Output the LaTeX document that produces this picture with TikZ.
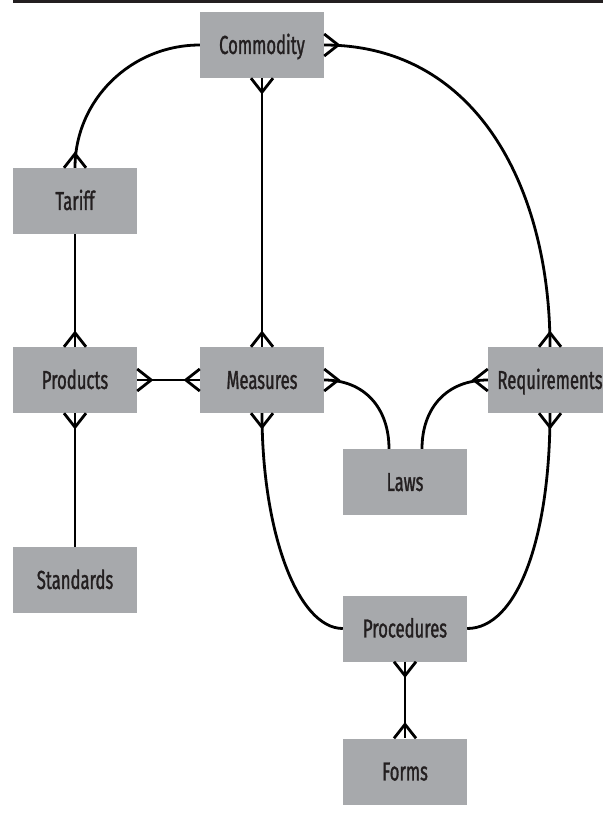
\documentclass[tikz,border=0pt]{standalone}
\usepackage{fontspec}
\setmainfont{Fira Sans}[FakeStretch=0.64,FakeBold=1.2]
\usetikzlibrary{arrows.meta,calc}

\pgfdeclarearrow{
  name = Crow,
  parameters = {\the\pgfarrowlength,\the\pgfarrowwidth},
  setup code = {
    \pgfarrowssettipend{\pgfarrowlength}
    \pgfarrowssetlineend{\pgfarrowlength}
    \pgfarrowssetbackend{0pt}
    \pgfarrowsupperhullpoint{\pgfarrowlength}{.5\pgfarrowwidth}
    \pgfarrowshullpoint{0pt}{0pt}
    \pgfarrowssavethe\pgfarrowlength
    \pgfarrowssavethe\pgfarrowwidth
  },
  drawing code = {
    \pgfsetlinewidth{2.8pt}
    \pgfsetmiterjoin
    \pgfsetbuttcap
    \pgfpathmoveto{\pgfpoint{\pgfarrowlength}{.5\pgfarrowwidth}}
    \pgfpathlineto{\pgfpoint{0pt}{0pt}}
    \pgfpathlineto{\pgfpoint{\pgfarrowlength}{-.5\pgfarrowwidth}}
    \pgfusepathqstroke
  },
  defaults = {length = 14pt, width = 22pt}
}

\definecolor{boxgray}{HTML}{A7A9AC}
\definecolor{ink}{HTML}{231F20}

\tikzset{
  entity/.style={fill=boxgray, draw=none, minimum width=124pt, minimum height=66pt,
    inner sep=0pt, text=ink, font=\fontsize{26}{30}\selectfont,
    text height=17.9pt, text depth=0pt},
  conn/.style={draw=black, line width=2.8pt},
  rule/.style={draw=ink, line width=3.2pt}
}

\begin{document}
\begin{tikzpicture}[x=1pt,y=1pt]
\useasboundingbox (0,0) rectangle (603,-815);

\coordinate (ruleL) at (13,-1.7);
\coordinate (ruleR) at (603,-1.7);
\draw[rule] (ruleL) -- (ruleR);

\node[entity] (Commodity)    at (262,-45)    {Commodity};
\node[entity] (Tariff)       at (75,-201)    {Tariff};
\node[entity] (Products)     at (75,-380)    {Products};
\node[entity] (Measures)     at (262,-380)   {Measures};
\node[entity] (Requirements) at (550,-380)   {Requirements};
\node[entity] (Laws)         at (405,-482)   {Laws};
\node[entity] (Standards)    at (75,-580)    {Standards};
\node[entity] (Procedures)   at (405,-628.5) {Procedures};
\node[entity] (Forms)        at (405,-771.5) {Forms};

\coordinate (lawsL) at ($(Laws.north)+(-16,0)$);
\coordinate (lawsR) at ($(Laws.north)+(17,0)$);

\draw[conn,-{Crow}] (Commodity.west) to[out=180,in=90] (Tariff.north);
\draw[conn,{Crow}-{Crow}] (Commodity.east) to[out=0,in=90,looseness=1.05] (Requirements.north);
\draw[conn,{Crow}-{Crow}] (Commodity.south) -- (Measures.north);
\draw[conn,-{Crow}] (Tariff.south) -- (Products.north);
\draw[conn,{Crow}-{Crow}] (Products.east) -- (Measures.west);
\draw[conn,{Crow}-] (Products.south) -- (Standards.north);
\draw[conn,{Crow}-] (Measures.east) to[out=0,in=90,looseness=1.1] (lawsL);
\draw[conn,{Crow}-] (Requirements.west) to[out=180,in=90,looseness=1.1] (lawsR);
\draw[conn,{Crow}-] (Measures.south) .. controls +(0,-119) and +(-45,0) .. (Procedures.west);
\draw[conn,{Crow}-] (Requirements.south) .. controls +(0,-125) and +(50,0) .. (Procedures.east);
\draw[conn,{Crow}-{Crow}] (Procedures.south) -- (Forms.north);
\end{tikzpicture}
\end{document}
